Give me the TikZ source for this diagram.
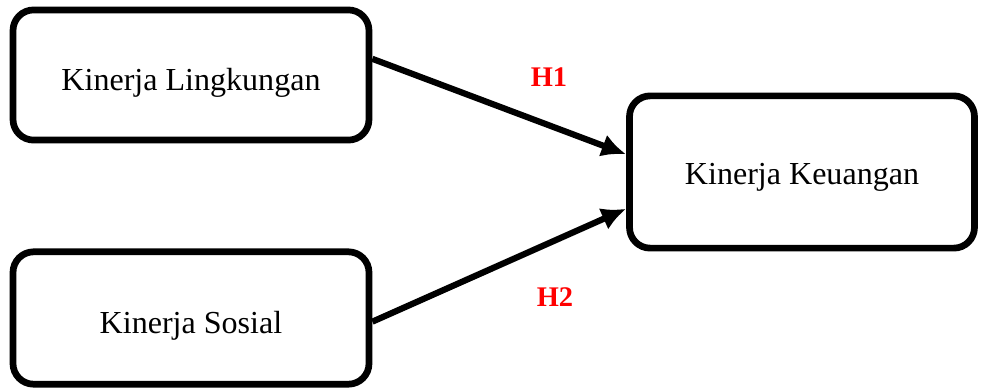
\documentclass[tikz,border=0pt]{standalone}
\usepackage{fontspec}
\setmainfont{Liberation Serif}
\usepackage[x11names, svgnames, rgb]{xcolor}
\usetikzlibrary{calc, positioning, arrows, arrows.meta, shapes}

\begin{document}
\begin{tikzpicture}[>={Latex[length=9.5pt,width=9pt]},line join=round,x=0.0136cm,y=-0.0136cm,
        var/.style={draw, rectangle, rounded corners=8pt, line width=2.6pt, font=\fontsize{12.4}{14}\selectfont, align=center},
        hyp/.style={text=red, font=\bfseries\fontsize{11}{13}\selectfont},
        link/.style={->, line width=2.4pt}]
        \useasboundingbox (0,0) rectangle (983,388);
        \node[var, minimum width=4.84cm, minimum height=1.77cm] (ling) at (191,75) {\raisebox{-3pt}[\height][\depth]{Kinerja Lingkungan}};
        \node[var, minimum width=4.84cm, minimum height=1.8cm] (sos) at (191,318) {\raisebox{-3pt}[\height][\depth]{Kinerja Sosial}};
        \node[var, minimum width=4.69cm, minimum height=2.07cm] (keu) at (802,172) {\raisebox{-2pt}[\height][\depth]{Kinerja Keuangan}};
        \draw[link] ([yshift=0.22cm]ling.east) -- ([yshift=0.24cm]keu.west);
        \draw[link] ([yshift=-0.05cm]sos.east) -- ([yshift=-0.5cm]keu.west);
        \node[hyp] (h1) at (549,77) {H1};
        \node[hyp] (h2) at (555,297) {H2};
      \end{tikzpicture}
\end{document}
